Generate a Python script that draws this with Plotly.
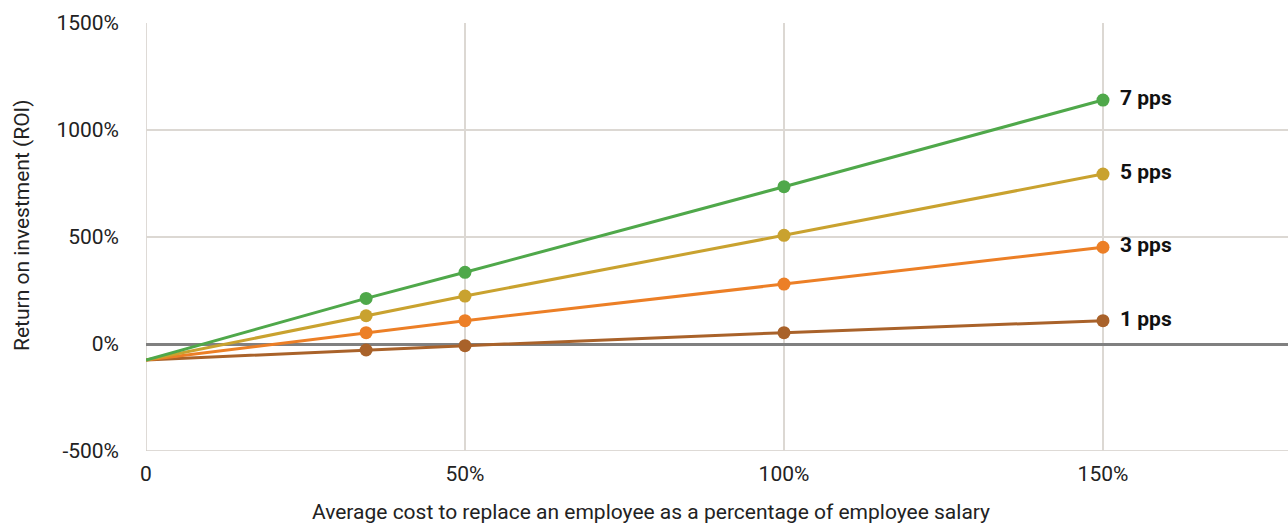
import plotly.graph_objects as go

# Replacement cost as a share of salary (0 = 0%, 1.5 = 150%)
cost_share = [0, 0.345, 0.5, 1.0, 1.5]

# ROI (%) for each productivity gain, in percentage points
series_names = ["7 pps", "5 pps", "3 pps", "1 pps"]
roi_7pps = [-75, 213, 335, 735, 1140]
roi_5pps = [-75, 132, 224, 508, 794]
roi_3pps = [-75, 53, 109, 280, 452]
roi_1pps = [-75, -28, -8, 53, 109]

series_values = [roi_7pps, roi_5pps, roi_3pps, roi_1pps]
series_colors = ["#4fa84a", "#c9a22f", "#ec7f26", "#a9622a"]

x_tick_vals = [0, 0.5, 1.0, 1.5]
x_tick_text = ["0", "50%", "100%", "150%"]
y_tick_vals = [-500, 0, 500, 1000, 1500]
y_tick_text = ["-500%", "0%", "500%", "1000%", "1500%"]

x_title = "Average cost to replace an employee as a percentage of employee salary"
y_title = "Return on investment (ROI)"

FONT = "Roboto, 'Liberation Sans', sans-serif"
GRID = "#dcd8d3"

fig = go.Figure()

# Draw the brown series first so the others sit on top
for name, vals, color in reversed(list(zip(series_names, series_values, series_colors))):
    fig.add_trace(go.Scatter(
        x=cost_share, y=vals, mode="lines+markers", name=name,
        line=dict(color=color, width=3),
        marker=dict(color=color, size=[0, 13, 13, 13, 13], opacity=1,
                    line=dict(width=0)),
        opacity=1, hoverinfo="skip", showlegend=False,
    ))
    fig.add_annotation(
        x=cost_share[-1], y=vals[-1], text=f"<b>{name}</b>",
        showarrow=False, xanchor="left", yanchor="middle", xshift=15, yshift=2,
        font=dict(family=FONT, size=21, color="#111111"),
    )

fig.update_layout(
    width=1288, height=525,
    margin=dict(l=146, r=0, t=23, b=74),
    plot_bgcolor="white", paper_bgcolor="white",
    font=dict(family=FONT, size=21, color="#222222"),
    xaxis=dict(
        range=[0, 1.79], tickvals=x_tick_vals, ticktext=x_tick_text,
        showgrid=True, gridcolor=GRID, gridwidth=1.5,
        zeroline=False, showline=False, ticks="", ticklabelstandoff=8,
        tickfont=dict(size=21),
    ),
    yaxis=dict(
        range=[-500, 1500], tickvals=y_tick_vals, ticktext=y_tick_text,
        showgrid=True, gridcolor=GRID, gridwidth=1.5,
        zeroline=True, zerolinecolor="#808080", zerolinewidth=3,
        showline=False, ticks="", ticklabelstandoff=26,
        tickfont=dict(size=21),
    ),
)

# Axis titles
fig.add_annotation(
    text=x_title, xref="paper", yref="paper", x=(651 - 146) / 1142, y=-(512 - 451) / 428,
    showarrow=False, xanchor="center", yanchor="middle",
    font=dict(family=FONT, size=21, color="#222222"),
)
fig.add_annotation(
    text=y_title, xref="paper", yref="paper", x=-(146 - 22) / 1142, y=(451 - 225) / 428,
    showarrow=False, xanchor="center", yanchor="middle", textangle=-90,
    font=dict(family=FONT, size=21, color="#222222"),
)

# Frame lines: vertical at x = 0 and horizontal at the bottom of the plot
fig.add_shape(type="line", xref="x", yref="paper", x0=0, x1=0, y0=0, y1=1,
              line=dict(color="#d3cec8", width=1.5), layer="below")
fig.add_shape(type="line", xref="paper", yref="y", x0=0, x1=1, y0=-500, y1=-500,
              line=dict(color="#d3cec8", width=1.5), layer="below")

fig.write_html("out.html")
